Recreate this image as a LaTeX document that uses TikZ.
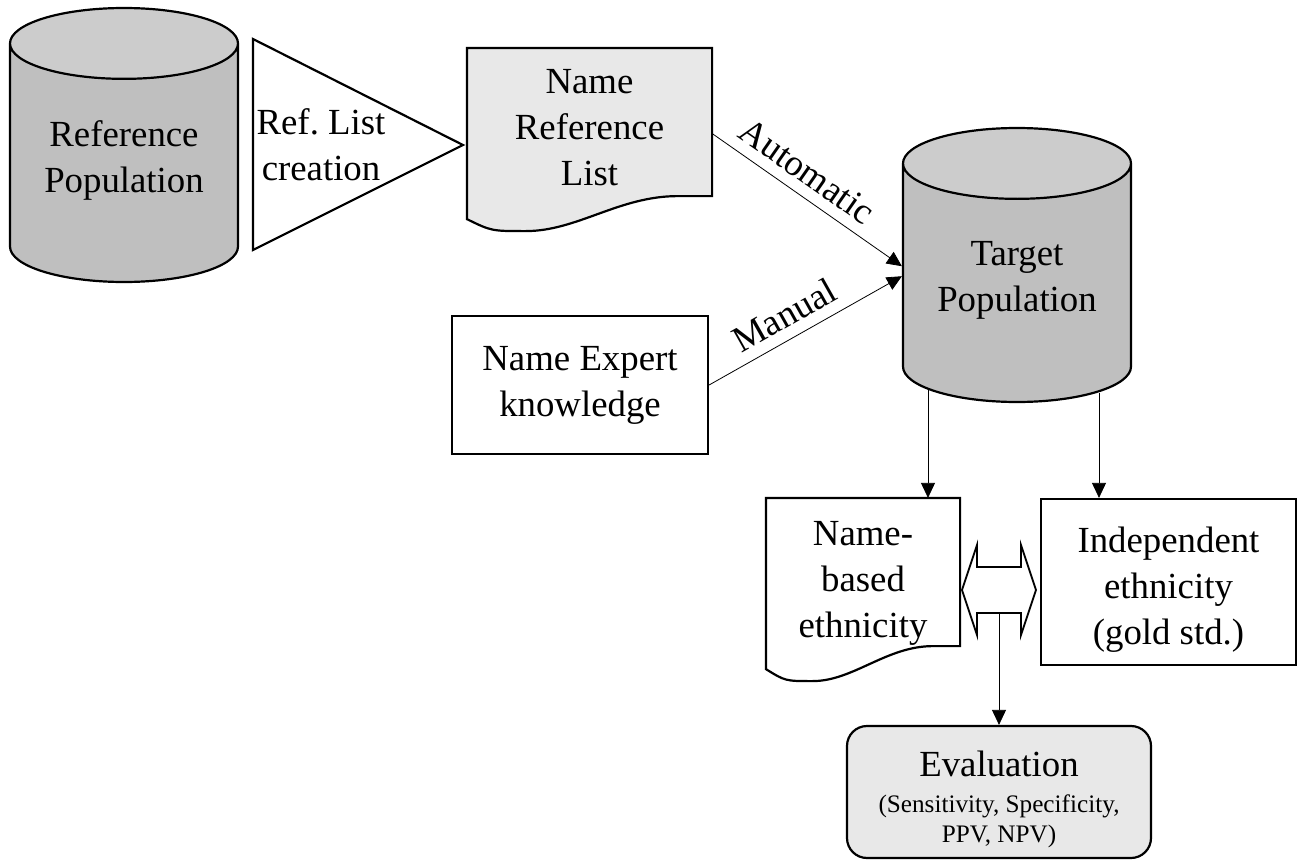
\documentclass[tikz,border=0pt]{standalone}
\usepackage{fontspec}
\setmainfont{Liberation Serif}
\usetikzlibrary{arrows.meta,calc,positioning,shapes.geometric,backgrounds}

% wavy document outline round a node
\newcommand\docshape[2]{%
  \draw[fill=#2, line width=1.1pt] (#1.south west) -- (#1.north west) -- (#1.north east)
    -- ($(#1.south east)+(0,-23)$)
    -- ($(#1.south west)!0.86!(#1.south east)+(0,-23)$)
    .. controls ($(#1.south west)!0.62!(#1.south east)+(0,-23)$) and ($(#1.south west)!0.45!(#1.south east)+(0,12)$)
    .. ($(#1.south west)!0.24!(#1.south east)+(0,12)$)
    .. controls ($(#1.south west)!0.10!(#1.south east)+(0,12)$) .. (#1.south west) -- cycle;}
\newcommand\evalfont{\fontsize{12.6pt}{15pt}\selectfont}

\begin{document}
\begin{tikzpicture}[x=0.5pt, y=-0.5pt, line width=1.1pt,
  every node/.style={font=\fontsize{18.4pt}{23pt}\selectfont, align=center},
  db/.style={cylinder, shape border rotate=90, aspect=0.41, draw, anchor=shape center,
    minimum width=114pt, minimum height=137pt, cylinder uses custom fill,
    cylinder body fill=black!25, cylinder end fill=black!20},
  doc/.style={minimum width=#1, minimum height=84.5pt, inner sep=0pt},
  box/.style={draw, rectangle},
  >={Triangle[length=7.5pt,width=7pt]}]
 \useasboundingbox (0,0) rectangle (1308,862);

 \node[db] (refPop) at (124,145) {Reference\\Population\rule[-12.5pt]{0pt}{0pt}};
 \draw (253,39) -- (463,145) -- (253,250) -- cycle;
 \node (tri) at (321,145) {Ref.\ List\\creation};
 \node[doc=121.5pt] (refList) at (589.5,133.5) {Name\\Reference\\List\rule[-6pt]{0pt}{0pt}};
 \node[box, minimum width=128pt, minimum height=69pt] (expert) at (580,385) {Name Expert\\knowledge};
 \node[db] (target) at (1017,265) {Target\\Population\rule[-12.5pt]{0pt}{0pt}};

 \node[doc=96pt] (nameBased) at (863,583.5) {Name-\\based\\ethnicity};
 \node[box, minimum width=127.5pt, minimum height=83pt] (indep) at (1168.5,582) {\rule{0pt}{20pt}Independent\\ethnicity\\(gold std.)};
 \node[box, rounded corners=10pt, fill=black!9, minimum width=152pt, minimum height=66pt,
   font=\fontsize{18.4pt}{15pt}\selectfont] (eval) at (999,792)
   {\rule{0pt}{20pt}Evaluation\\[3pt]\evalfont(Sensitivity, Specificity,\\\evalfont PPV, NPV)};

 \begin{pgfonlayer}{background}
  \docshape{refList}{black!9}
  \docshape{nameBased}{white}
 \end{pgfonlayer}

 \draw[->] (refList.east) -- node[pos=0.43, above=2pt, sloped] {Automatic} ([yshift=11.5pt]target.west);
 \draw[->] (expert.east) -- node[pos=0.45, above=2pt, sloped] {Manual} ([yshift=6.5pt]target.west);

 \draw[->] ($(target.south)+(-89,-13)$) -- ($(nameBased.north)+(65,0)$);
 \draw[->] ($(target.south)+(82,-10)$) -- ($(indep.north)+(-69.5,0)$);

 % compare arrow
 \draw[line width=0.9pt] (962,590) -- (977,545) -- (977,567) -- (1021,567) -- (1021,545) -- (1036,590)
   -- (1021,635) -- (1021,613) -- (977,613) -- (977,635) -- cycle;
 \coordinate (cmp) at (999,613);
 \draw[->] (cmp) -- (eval.north);

\end{tikzpicture}
\end{document}
